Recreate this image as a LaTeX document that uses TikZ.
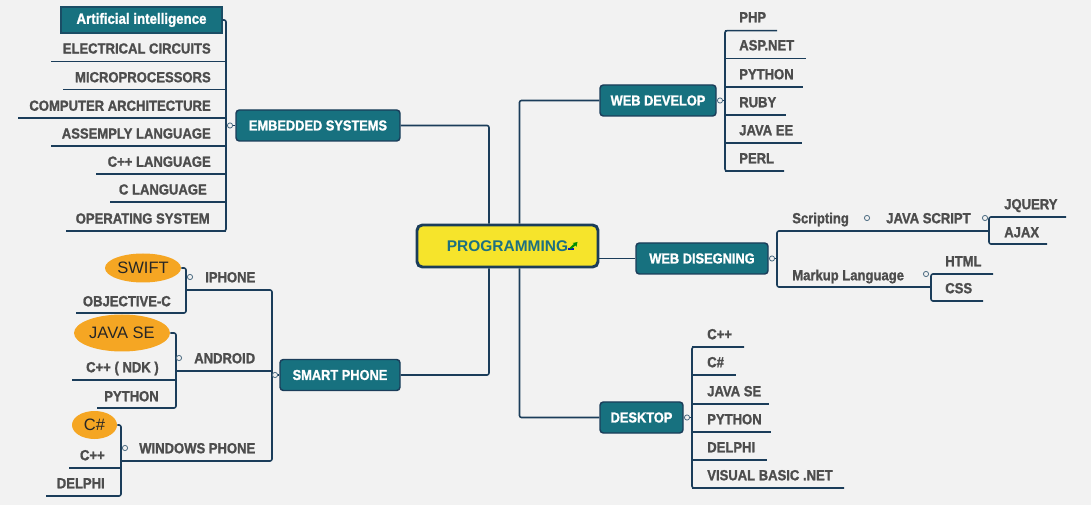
\documentclass[tikz,border=0pt]{standalone}
\usepackage{fontspec}
\setmainfont{Liberation Sans}
\newfontfamily\condf{Liberation Sans}[UprightFont={* Bold}, FakeStretch=0.89, FakeBold=1.3]
\usetikzlibrary{shapes.geometric}
\definecolor{bgc}{HTML}{F2F2F2}
\definecolor{tealbox}{HTML}{17717F}
\definecolor{navy}{HTML}{1B3D5A}
\definecolor{txtgray}{HTML}{4D4D4D}
\definecolor{orangec}{HTML}{F5A623}
\definecolor{yellowc}{HTML}{F6E42B}
\definecolor{progtxt}{HTML}{1D7080}
\definecolor{knobc}{HTML}{4A6A80}
\tikzset{
  ln/.style={draw=navy, line width=1.2pt, rounded corners=1.5pt},
  topic/.style={draw=navy, fill=tealbox, line width=1.1pt, rounded corners=2.5pt,
    text=white, font=\condf\fontsize{10.8}{12}\selectfont, inner sep=0pt,
    minimum width={#1*0.75pt}, minimum height=23.25pt},
  aibox/.style={draw=navy!70!tealbox, fill=tealbox, line width=0.8pt,
    text=white, font=\condf\fontsize{11.2}{12}\selectfont, inner sep=0pt,
    minimum width=120.75pt, minimum height=19.5pt},
  progbox/.style={draw=navy, fill=yellowc, line width=2.2pt, rounded corners=4pt,
    text=progtxt, font=\bfseries\fontsize{11.6}{13}\selectfont, inner sep=0pt,
    minimum width=135.75pt, minimum height=31.5pt},
  leaf/.style={text=txtgray, font=\condf\fontsize{11}{12}\selectfont,
    inner sep=0pt, text height=7.9pt, text depth=0pt},
  lr/.style={leaf, anchor=east},
  ll/.style={leaf, anchor=west},
  knob/.style={circle, draw=knobc, fill=bgc, line width=0.6pt, inner sep=0pt, minimum size=3.9pt},
  oval/.style={ellipse, fill=orangec, inner sep=0pt, text=black!85,
    font=\fontsize{12.4}{14}\selectfont},
}
\begin{document}
\begin{tikzpicture}[x=0.75pt,y=-0.75pt]
\fill[bgc] (0,0) rectangle (1091,505);
\useasboundingbox (0,0) rectangle (1091,505);

% ---------- central topic
\node[progbox] (prog) at (507.5,246) {PROGRAMMING\hspace{11pt}};
\fill[blue!60!navy] (567.5,248.2) rectangle (573.5,249.6);
\fill[green!55!black] (569.5,248) -- (574,243.8) -- (572.6,243) -- (577.5,242) -- (576.5,246.8) -- (575.6,245.3) -- (571,249.2) -- cycle;

% ---------- main topics
\node[topic=164] (es) at (318,125.5) {EMBEDDED SYSTEMS};
\node[topic=116] (wd) at (658,100.5) {WEB DEVELOP};
\node[topic=132] (wds) at (702,258.5) {WEB DISEGNING};
\node[topic=83] (dt) at (641.5,417.5) {DESKTOP};
\node[topic=120] (sp) at (340,375) {SMART PHONE};

\draw[ln] (es.east) -| ([xshift=-13.9pt]prog.north);
\draw[ln] (sp.east) -| ([xshift=-13.9pt]prog.south);
\draw[ln] (wd.west) -| ([xshift=9pt]prog.north);
\draw[ln] (dt.west) -| ([xshift=9pt]prog.south);
\draw[ln] (prog.east |- wds.west) -- (wds.west);

% ---------- EMBEDDED SYSTEMS
\node[aibox] (ai) at (141.5,20) {Artificial intelligence};
\coordinate (ebr) at (226,125.5);
\foreach \t/\cy/\uy/\ux/\rx [count=\i] in {
  ELECTRICAL CIRCUITS/48.3/61.5/51/211,
  MICROPROCESSORS/77/89.7/63/211,
  COMPUTER ARCHITECTURE/105.5/118/18/211,
  ASSEMPLY LANGUAGE/133.3/146/51/211,
  C++ LANGUAGE/161.5/174/96/211,
  C LANGUAGE/189.3/202/110/207,
  OPERATING SYSTEM/218.3/231/66/210}{
  \node[lr] (e\i) at (\rx,\cy) {\t};
  \coordinate (eu\i) at (\ux,\uy);
  \draw[ln] (eu\i) -- (eu\i -| ebr);
}
\draw[ln] (ai.east) -| (ebr) |- (eu7);
\draw[ln] (ebr) -- (es.west);
\node[knob] at (230,125.5) {};

% ---------- WEB DEVELOP
\coordinate (wbr) at (725,100.5);
\foreach \t/\cy/\uy/\ux [count=\i] in {
  PHP/17/30.7/777, ASP.NET/45/58.7/806, PYTHON/74/87/803,
  RUBY/102/115/786, JAVA EE/130/143/802, PERL/158/171/784}{
  \node[ll] (w\i) at (739,\cy) {\t};
  \coordinate (wu\i) at (\ux,\uy);
  \draw[ln] (wbr |- wu\i) -- (wu\i);
}
\draw[ln] (wu1) -| (wbr) |- (wu6);
\draw[ln] (wd.east) -- (wbr);
\node[knob] at (720,100.5) {};

% ---------- WEB DISEGNING
\coordinate (dbr) at (777,258.5);
\coordinate (jsbr) at (989,231);
\coordinate (mkbr) at (931,287);
\node[ll] (scr) at (792,218) {Scripting};
\node[ll] (js) at (886,218) {JAVA SCRIPT};
\node[ll] (mk) at (792,275) {Markup Language};
\draw[ln] (jsbr) -| (dbr) |- (mkbr);
\draw[ln] (wds.east) -- (dbr);
\node[ll] (jq) at (1004,204) {JQUERY};
\node[ll] (aj) at (1004,232) {AJAX};
\coordinate (jqu) at (1066,217);
\coordinate (aju) at (1047,244);
\draw[ln] (jqu) -| (jsbr) |- (aju);
\node[ll] (ht) at (945,261) {HTML};
\node[ll] (cs) at (945,288) {CSS};
\coordinate (htu) at (993,274);
\coordinate (csu) at (983,301);
\draw[ln] (htu) -| (mkbr) |- (csu);
\node[knob] at (772,258.5) {};
\node[knob] at (867,218) {};
\node[knob] at (985,218) {};
\node[knob] at (926,274) {};

% ---------- DESKTOP
\coordinate (tbr) at (692,417.5);
\foreach \t/\cy/\uy/\ux [count=\i] in {
  C++/334/347/744, C\#/362/375/736, JAVA SE/391/404/769,
  PYTHON/419/432/771, DELPHI/447/460/767, VISUAL BASIC .NET/475/488/844}{
  \node[ll] (d\i) at (707,\cy) {\t};
  \coordinate (du\i) at (\ux,\uy);
  \draw[ln] (tbr |- du\i) -- (du\i);
}
\draw[ln] (du1) -| (tbr) |- (du6);
\draw[ln] (dt.east) -- (tbr);
\node[knob] at (687,417.5) {};

% ---------- SMART PHONE
\coordinate (sbr) at (272,375);
\coordinate (ipbr) at (186,290);
\coordinate (anbr) at (176,371);
\coordinate (wpbr) at (121,461);
\node[ll] (ip) at (205,277) {IPHONE};
\node[ll] (an) at (194,358) {ANDROID};
\node[ll] (wp) at (139,448) {WINDOWS PHONE};
\draw[ln] (ipbr) -| (sbr) |- (wpbr);
\draw[ln] (anbr) -- (anbr -| sbr);
\draw[ln] (sbr) -- (sp.west);

% iPhone
\node[oval, minimum width=57pt, minimum height=21.75pt] (swift) at (143,268) {SWIFT};
\node[lr] (objc) at (171,301) {OBJECTIVE-C};
\coordinate (objcu) at (76,313);
\draw[ln] (swift.east) -| (ipbr) |- (objcu);

% Android
\node[oval, minimum width=72pt, minimum height=27.75pt] (jse) at (122,333) {JAVA SE};
\node[lr] (ndk) at (159,367) {C++ ( NDK )};
\node[lr] (apy) at (159,396) {PYTHON};
\coordinate (ndku) at (72,380);
\coordinate (apyu) at (97,408);
\draw[ln] (jse.east) -| (anbr) |- (apyu);
\draw[ln] (ndku) -- (ndku -| anbr);

% Windows phone
\node[oval, minimum width=33.75pt, minimum height=21pt] (csh) at (94.5,425) {C\#};
\node[lr] (wcpp) at (105,455) {C++};
\node[lr] (wdl) at (105,483) {DELPHI};
\coordinate (wcu) at (69,468);
\coordinate (wdlu) at (46,496);
\draw[ln] (csh.east) -| (wpbr) |- (wdlu);
\draw[ln] (wcu) -- (wcu -| wpbr);

\node[knob] at (275,375) {};
\node[knob] at (190,277) {};
\node[knob] at (179,358) {};
\node[knob] at (125,448) {};
\end{tikzpicture}
\end{document}
